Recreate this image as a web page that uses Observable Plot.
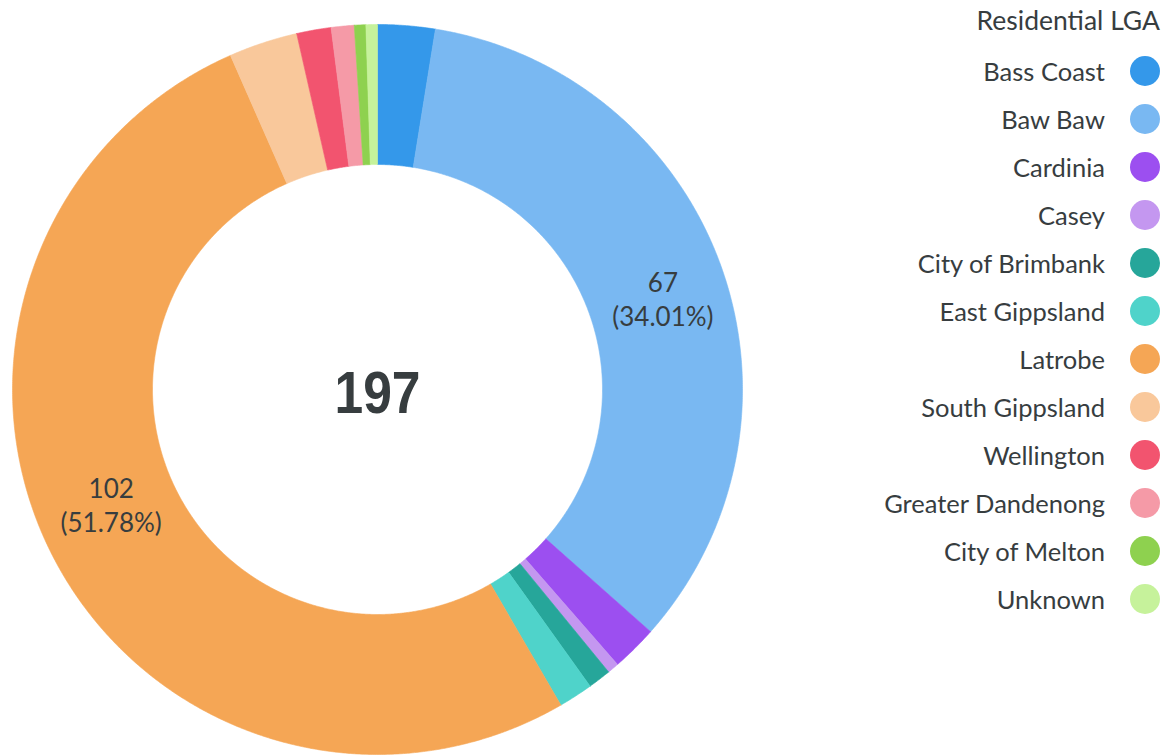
<!DOCTYPE html>
<html>
<head>
<meta charset="utf-8">
<script src="https://cdn.jsdelivr.net/npm/d3@7"></script>
<script src="https://cdn.jsdelivr.net/npm/@observablehq/plot@0.6"></script>
<style>
  html, body { margin: 0; padding: 0; background: #fff; }
  #wrap { position: relative; width: 1175px; height: 755px; overflow: hidden; }
  #chart { position: absolute; left: 0; top: 0; }
  #legend { position: absolute; right: 15px; top: 0; font-family: Lato, "Open Sans", sans-serif; color: #373d3f; }
  #legend .title { font-size: 26.5px; text-align: right; height: 40px; line-height: 40px; margin-bottom: 7px; }
  #legend .row { display: flex; align-items: center; justify-content: flex-end; height: 48px; }
  #legend .lab { font-size: 25.5px; margin-right: 25px; white-space: nowrap; }
  #legend .dot { width: 30px; height: 30px; border-radius: 50%; }
</style>
</head>
<body>
<div id="wrap">
  <div id="chart"></div>
  <div id="legend"></div>
</div>
<script>
// ---- data ----
const categories = ["Bass Coast", "Baw Baw", "Cardinia", "Casey", "City of Brimbank", "East Gippsland",
  "Latrobe", "South Gippsland", "Wellington", "Greater Dandenong", "City of Melton", "Unknown"];
const counts = [5, 67, 4, 1, 2, 3, 102, 6, 3, 2, 1, 1];
const colors = ["#3498ea", "#79b8f2", "#9c4ff0", "#c497f0", "#26a69a", "#4fd3ca",
  "#f5a655", "#f9c89b", "#f2546f", "#f59aa7", "#8ed14f", "#c6f29b"];
const legendTitle = "Residential LGA";

// ---- layout constants (styling) ----
const W = 1175, H = 755;
const cx = 377, cy = 389;           // pixel position of the donut centre
const R = 365, r0 = 225;             // outer / inner radius (px units)
const labelR = 295, labelShift = 0.05;
const textColor = "#373d3f";

const total = d3.sum(counts);
const arcs = d3.pie().sort(null).value(d => d)(counts);

// polygon outline for each slice
const polys = [];
arcs.forEach((a, i) => {
  const n = Math.max(2, Math.ceil((a.endAngle - a.startAngle) / 0.005));
  const pts = [];
  for (let k = 0; k <= n; k++) {
    const t = a.startAngle + (a.endAngle - a.startAngle) * k / n;
    pts.push([R * Math.sin(t), R * Math.cos(t)]);
  }
  for (let k = n; k >= 0; k--) {
    const t = a.startAngle + (a.endAngle - a.startAngle) * k / n;
    pts.push([r0 * Math.sin(t), r0 * Math.cos(t)]);
  }
  pts.push(pts[0]);
  pts.forEach(([x, y]) => polys.push({cat: categories[i], x, y}));
});

const fmtPct = d3.format(".2f");
const labels = arcs
  .map((a, i) => ({a, i}))
  .filter(({i}) => counts[i] / total > 0.1)
  .map(({a, i}) => {
    const m = (a.startAngle + a.endAngle) / 2 + labelShift;
    return {
      x: labelR * Math.sin(m),
      y: labelR * Math.cos(m),
      text: `${counts[i]}\n(${fmtPct(counts[i] / total * 100)}%)`
    };
  });

const chart = Plot.plot({
  width: W,
  height: H,
  margin: 0,
  style: {background: "transparent", overflow: "visible"},
  x: {domain: [-cx, W - cx], range: [0, W], axis: null},
  y: {domain: [-(H - cy), cy], range: [H, 0], axis: null},
  color: {domain: categories, range: colors},
  marks: [
    Plot.line(polys, {x: "x", y: "y", z: "cat", fill: "cat", stroke: "cat", strokeWidth: 0.6, curve: "linear"}),
    Plot.text(labels, {x: "x", y: "y", text: "text", fill: textColor, fontSize: 26, dx: 3, dy: -6,
      fontFamily: "Lato, 'Open Sans', sans-serif", lineHeight: 1.3, textAnchor: "middle"}),
    Plot.text([total], {x: () => 0, y: () => 0, text: d => String(d), fill: textColor, fontSize: 60, dy: 4,
      fontWeight: "bold", fontFamily: "'Liberation Sans', Arial, sans-serif", className: "total-label"})
  ]
});
document.getElementById("chart").appendChild(chart);
d3.select(chart).selectAll(".total-label text")
  .attr("textLength", 86).attr("lengthAdjust", "spacingAndGlyphs");

// ---- legend ----
const lg = d3.select("#legend");
lg.append("div").attr("class", "title").text(legendTitle);
categories.forEach((c, i) => {
  const row = lg.append("div").attr("class", "row");
  row.append("span").attr("class", "lab").text(c);
  row.append("span").attr("class", "dot").style("background", colors[i]);
});
</script>
</body>
</html>
